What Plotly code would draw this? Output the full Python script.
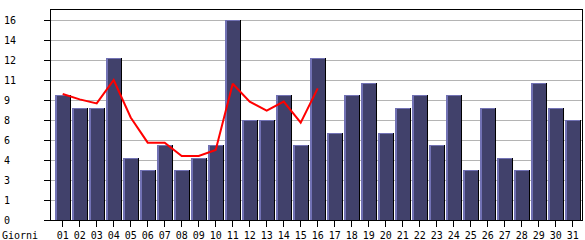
import plotly.graph_objects as go

days = [f"{d:02d}" for d in range(1, 32)]
visits = [10, 9, 9, 13, 5, 4, 6, 4, 5, 6, 16, 8, 8, 10, 6, 13,
          7, 10, 11, 7, 9, 10, 6, 10, 4, 9, 5, 4, 11, 9, 8]
trend_days = days[:16]
trend = [10.08, 9.65, 9.33, 11.2, 8.2, 6.19, 6.19, 5.12, 5.12, 5.6,
         10.9, 9.47, 8.75, 9.47, 7.79, 10.53]
ytick_vals = [0, 1.6, 3.2, 4.8, 6.4, 8, 9.6, 11.2, 12.8, 14.4, 16]
ytick_text = ["0", "1", "3", "4", "6", "8", "9", "11", "12", "14", "16"]

FONT = "DejaVu Sans Mono"
PX = 16 / 200  # value units per pixel (style helper)
HL = "#7272b4"
FILL = "#41416b"

fig = go.Figure()
# shadow
fig.add_trace(go.Bar(x=days, y=visits, width=0.82, offset=-0.335,
                     marker=dict(color="#000000", line=dict(width=0)),
                     hoverinfo="skip"))
# highlight
fig.add_trace(go.Bar(x=days, y=visits, width=0.882, offset=-0.453,
                     marker=dict(color=HL, line=dict(width=0)),
                     hoverinfo="skip"))
# fill
fig.add_trace(go.Bar(x=days, y=[v - PX for v in visits], width=0.765, offset=-0.335,
                     marker=dict(color=FILL, line=dict(width=0))))
fig.add_trace(go.Scatter(x=trend_days, y=trend, mode="lines",
                         line=dict(color="#ff0000", width=2)))

ylab = [t + "\u00a0" * (2 - len(t)) for t in ytick_text]

fig.update_layout(
    width=585, height=240,
    margin=dict(l=51, r=3, t=10, b=20, pad=0),
    paper_bgcolor="white", plot_bgcolor="white",
    barmode="overlay", bargap=0, showlegend=False,
    font=dict(family=FONT, size=10, color="black"),
    xaxis=dict(type="category", range=[-0.688, 30.547], automargin=False,
               showline=True, mirror=True, linecolor="black", linewidth=1,
               ticks="outside", ticklen=6, tickcolor="black", tickwidth=1,
               showgrid=False, zeroline=False,
               tickfont=dict(family=FONT, size=10, color="black")),
    yaxis=dict(range=[0, 16.8], tickvals=ytick_vals, ticktext=ylab, automargin=False,
               showline=True, mirror=True, linecolor="black", linewidth=1,
               ticks="outside", ticklen=6, tickcolor="black", tickwidth=1,
               showgrid=True, gridcolor="#b4b4b4", gridwidth=1, zeroline=False,
               ticklabelstandoff=26,
               tickfont=dict(family=FONT, size=10, color="black")),
    annotations=[dict(text="Giorni", xref="paper", yref="paper", x=0, y=0,
                      xanchor="left", yanchor="top", xshift=-51, yshift=-8,
                      showarrow=False, font=dict(family=FONT, size=10, color="black"))],
)

fig.write_html("out.html")
